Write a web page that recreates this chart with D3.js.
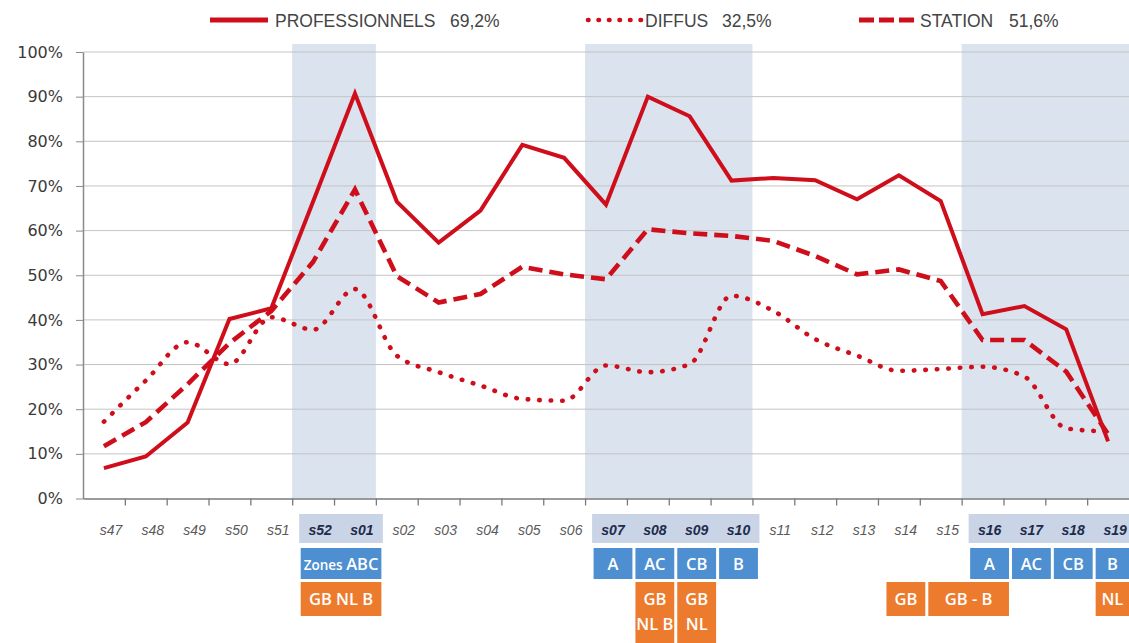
<!DOCTYPE html>
<html lang="fr">
<head>
<meta charset="utf-8">
<title>professionnels / diffus / station</title>
<script src="https://cdn.jsdelivr.net/npm/d3@7"></script>
<style>
  body { margin: 0; background: #fff; }
  svg { display: block; }
  .ylab text { font-family: "DejaVu Sans", sans-serif; font-size: 16px; fill: #3a3a3a; }
  .leg { font-family: "Liberation Sans", Arial, sans-serif; font-size: 17.5px; fill: #444; }
  .wk { font-family: "Liberation Sans Narrow", "Liberation Sans", Arial, sans-serif; font-style: italic; font-size: 14px; fill: #5a5a5a; }
  .wk.hl { font-weight: bold; fill: #1e2b4a; }
  .box { font-family: "Open Sans", sans-serif; font-weight: 600; font-size: 16.5px; fill: #fff; }
</style>
</head>
<body>
<svg id="chart" width="1129" height="643"></svg>
<script>
// semaines
var weeks = ["s47","s48","s49","s50","s51","s52","s01","s02","s03","s04","s05","s06","s07",
             "s08","s09","s10","s11","s12","s13","s14","s15","s16","s17","s18","s19"];

// % par semaine
var professionnels = [6.8, 9.4, 17.0, 40.2, 42.6, 66.5, 90.7, 66.5, 57.3, 64.5, 79.2, 76.3, 65.8,
                      90.0, 85.6, 71.2, 71.8, 71.3, 67.0, 72.4, 66.6, 41.3, 43.1, 37.9, 12.8];
var diffus = [17.2, 26.4, 35.0, 30.1, 40.6, 37.8, 46.9, 32.0, 28.3, 25.3, 22.3, 21.9, 29.8,
              28.3, 30.1, 45.4, 42.0, 35.7, 32.0, 28.6, 29.0, 29.5, 27.3, 15.7, 15.0];
var station = [11.7, 17.1, 25.6, 34.8, 42.0, 53.0, 69.2, 49.8, 43.9, 45.8, 51.9, 50.2, 49.1,
               60.3, 59.4, 58.8, 57.7, 54.3, 50.2, 51.3, 48.7, 35.5, 35.5, 28.4, 14.4];

var legendNames = ["PROFESSIONNELS", "DIFFUS", "STATION"];
var legendTotals = ["69,2%", "32,5%", "51,6%"];
var yTicks = [0, 10, 20, 30, 40, 50, 60, 70, 80, 90, 100];

// periodes de vacances (bandes grises)
var holidays = [["s52","s01"], ["s07","s10"], ["s16","s19"]];
var zonesRow = [
  {from: "s52", to: "s01", label: "Zones ABC"},
  {from: "s07", to: "s07", label: "A"},
  {from: "s08", to: "s08", label: "AC"},
  {from: "s09", to: "s09", label: "CB"},
  {from: "s10", to: "s10", label: "B"},
  {from: "s16", to: "s16", label: "A"},
  {from: "s17", to: "s17", label: "AC"},
  {from: "s18", to: "s18", label: "CB"},
  {from: "s19", to: "s19", label: "B"}
];
var paysRow = [
  {from: "s52", to: "s01", label: ["GB NL B"]},
  {from: "s08", to: "s08", label: ["GB", "NL B"]},
  {from: "s09", to: "s09", label: ["GB", "NL"]},
  {from: "s14", to: "s14", label: ["GB"]},
  {from: "s15", to: "s16", label: ["GB - B"]},
  {from: "s19", to: "s19", label: ["NL"]}
];

var red = "#cf0e1b";
var plotLeft = 83, plotRight = 1129, plotTop = 52, plotBottom = 498.5;
var shift = 7; // le tableau du bas est un peu decale

var svg = d3.select("#chart");

var x = d3.scaleBand().domain(weeks).range([plotLeft, plotRight]).paddingInner(0).paddingOuter(0);
var edge = d3.scaleLinear().domain([0, weeks.length]).range([plotLeft, plotRight]);
var y = d3.scaleLinear().domain([0, 100]).range([plotBottom, plotTop]);
var bw = x.bandwidth();

function cx(w) { return x(w) + bw / 2; }

//bandes
svg.append("g").selectAll("rect")
  .data(holidays).enter().append("rect")
    .attr("x", function(d) { return x(d[0]); })
    .attr("y", 44)
    .attr("width", function(d) { return x(d[1]) + bw - x(d[0]); })
    .attr("height", plotBottom - 44)
    .attr("fill", "#dae3ee");

//grille
svg.append("g").selectAll("line")
  .data(yTicks.slice(1)).enter().append("line")
    .attr("x1", plotLeft).attr("x2", plotRight)
    .attr("y1", function(d) { return y(d); })
    .attr("y2", function(d) { return y(d); })
    .attr("stroke", "#c4c4c4").attr("stroke-width", 1);

// axe y
var yAxis = svg.append("g").attr("class", "ylab")
    .attr("transform", "translate(" + plotLeft + ",0)")
    .call(d3.axisLeft(y).tickValues(yTicks).tickSize(7).tickSizeOuter(0).tickPadding(13)
      .tickFormat(function(d) { return d + "%"; }));
yAxis.attr("font-family", null).attr("font-size", null);
yAxis.selectAll("line").attr("stroke", "#8a8a8a");
yAxis.select(".domain").attr("stroke", "#8a8a8a").attr("stroke-width", 1.5);
yAxis.selectAll("text").attr("fill", "#3a3a3a");

// axe x, traits entre les semaines
var xAxis = svg.append("g")
    .attr("transform", "translate(0," + plotBottom + ")")
    .call(d3.axisBottom(edge).tickValues(d3.range(1, weeks.length)).tickSize(7).tickSizeOuter(0)
      .tickFormat(""));
xAxis.selectAll("line").attr("stroke", "#7a7a7a").attr("stroke-width", 1.3);
xAxis.select(".domain").attr("stroke", "#7a7a7a").attr("stroke-width", 1.5);

// courbes
var line = d3.line()
    .x(function(d, i) { return cx(weeks[i]); })
    .y(function(d) { return y(d); });
var smooth = d3.line()
    .x(function(d, i) { return cx(weeks[i]); })
    .y(function(d) { return y(d); })
    .curve(d3.curveMonotoneX);

svg.append("path").datum(diffus)
    .attr("d", smooth).attr("fill", "none").attr("stroke", red)
    .attr("stroke-width", 4.6).attr("stroke-linecap", "round").attr("stroke-dasharray", "0.5 11");
svg.append("path").datum(station)
    .attr("d", line).attr("fill", "none").attr("stroke", red)
    .attr("stroke-width", 4.6).attr("stroke-dasharray", "14 7");
svg.append("path").datum(professionnels)
    .attr("d", line).attr("fill", "none").attr("stroke", red)
    .attr("stroke-width", 4).attr("stroke-linejoin", "miter");

// legende
var legX = [[210, 268, 275, 450], [585, 642, 645, 722], [859, 918, 920, 1009]];
var legDash = [null, "0.5 10", "15 5"];
var legCap = ["butt", "round", "butt"];
legendNames.forEach(function(n, i) {
  svg.append("line")
    .attr("x1", legX[i][0] + (i == 1 ? 3 : 0)).attr("x2", legX[i][1])
    .attr("y1", 20).attr("y2", 20)
    .attr("stroke", red).attr("stroke-width", i == 1 ? 4.6 : 5)
    .attr("stroke-linecap", legCap[i])
    .attr("stroke-dasharray", legDash[i]);
  svg.append("text").attr("class", "leg").attr("x", legX[i][2]).attr("y", 27).text(n);
  svg.append("text").attr("class", "leg").attr("x", legX[i][3]).attr("y", 27).text(legendTotals[i]);
});

// tableau sous l'axe
var isHl = {};
holidays.forEach(function(h) {
  weeks.slice(weeks.indexOf(h[0]), weeks.indexOf(h[1]) + 1).forEach(function(w) { isHl[w] = true; });
});

svg.append("g").selectAll("rect")
  .data(holidays).enter().append("rect")
    .attr("x", function(d) { return x(d[0]) + shift; })
    .attr("y", 514)
    .attr("width", function(d) { return Math.min(x(d[1]) + bw + shift, plotRight) - x(d[0]) - shift; })
    .attr("height", 29)
    .attr("fill", "#c9d5e7");

svg.append("g").selectAll("text")
  .data(weeks).enter().append("text")
    .attr("class", function(d) { return isHl[d] ? "wk hl" : "wk"; })
    .attr("x", function(d) { return cx(d) + shift; })
    .attr("y", 535)
    .attr("text-anchor", "middle")
    .text(function(d) { return d; });

function boxX(d) { return x(d.from) + shift + 1.5; }
function boxW(d) { return Math.min(x(d.to) + bw + shift - 1.5, plotRight) - boxX(d); }

var zg = svg.append("g").selectAll("g").data(zonesRow).enter().append("g");
zg.append("rect")
    .attr("x", boxX).attr("y", 548).attr("width", boxW).attr("height", 31)
    .attr("fill", "#4d8fd1");
zg.append("text").attr("class", "box")
    .attr("x", function(d) { return boxX(d) + boxW(d) / 2; })
    .attr("y", 570)
    .attr("text-anchor", "middle")
    .each(function(d) {
      var t = d3.select(this);
      if (d.label == "Zones ABC") {
        t.append("tspan").attr("font-size", 13.5).text("Zones ");
        t.append("tspan").attr("font-size", 16.5).text("ABC");
      } else {
        t.text(d.label);
      }
    });

var pg = svg.append("g").selectAll("g").data(paysRow).enter().append("g");
pg.append("rect")
    .attr("x", boxX).attr("y", 582).attr("width", boxW)
    .attr("height", function(d) { return d.label.length > 1 ? 70 : 34; })
    .attr("fill", "#ed7b2e");
pg.append("text").attr("class", "box")
    .attr("x", function(d) { return boxX(d) + boxW(d) / 2; })
    .attr("text-anchor", "middle")
    .selectAll("tspan").data(function(d) { return d.label; }).enter().append("tspan")
      .attr("x", function() { var d = d3.select(this.parentNode).datum(); return boxX(d) + boxW(d) / 2; })
      .attr("y", function(d, i) { return 605 + i * 25; })
      .text(function(d) { return d; });
</script>
</body>
</html>
